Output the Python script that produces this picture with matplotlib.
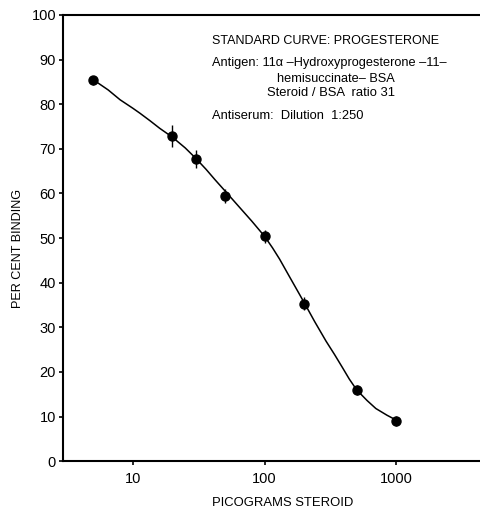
import numpy as np
import matplotlib.pyplot as plt

# measured points (picograms, per cent binding, error)
dose = [5, 20, 30, 50, 100, 200, 500, 1000]
binding = [85.4, 72.9, 67.8, 59.4, 50.4, 35.3, 15.9, 9.0]
err = [1.0, 2.4, 2.0, 1.6, 1.5, 1.5, 1.1, 1.2]

# fitted curve
curve_x = [5, 6.5, 8, 10, 11.3, 13.5, 16, 20, 25, 30, 36, 42, 50, 65, 80, 100,
           115, 130, 155, 185, 210, 240, 293, 340, 390, 440, 500, 600, 700, 850, 1000]
curve_y = [85.5, 83.2, 81.0, 79.1, 78.0, 76.3, 74.6, 72.6, 70.2, 67.9, 65.4, 63.1,
           60.6, 56.8, 53.8, 50.4, 47.8, 45.3, 41.3, 37.3, 34.4, 31.3, 26.9, 23.9,
           21.0, 18.4, 16.0, 13.6, 11.8, 10.3, 9.2]

tick_x = [10, 100, 1000]
tick_y = list(range(0, 101, 10))

plt.rcParams['font.family'] = ['Liberation Sans', 'DejaVu Sans']

fig = plt.figure(figsize=(4.81, 5.17), dpi=100)
ax = fig.add_axes([0.131, 0.108, 0.869, 0.863])

ax.plot(curve_x, curve_y, color='black', lw=1.1)
ax.errorbar(dose, binding, yerr=err, fmt='o', color='black', ms=6.5,
            elinewidth=1.0, capsize=0)

ax.set_xscale('log')
ax.set_xlim(2.95, 4400)
ax.set_ylim(0, 100)
ax.set_xticks(tick_x)
ax.set_xticklabels([str(t) for t in tick_x])
ax.xaxis.set_minor_locator(plt.NullLocator())
ax.set_yticks(tick_y)

for s in ['left', 'bottom', 'top']:
    ax.spines[s].set_linewidth(1.5)
ax.spines['right'].set_visible(False)
ax.tick_params(axis='both', direction='out', length=3, width=1.2, labelsize=10.5, pad=2)
ax.tick_params(axis='x', pad=5)

fig.text(0.588, 0.016, 'PICOGRAMS STEROID', ha='center', va='bottom', fontsize=9.4)
fig.text(0.037, 0.52, 'PER CENT BINDING', ha='center', va='center',
         rotation='vertical', fontsize=9.1)

tx = 0.356
ax.text(tx, 0.942, 'STANDARD CURVE: PROGESTERONE', transform=ax.transAxes,
        va='center', fontsize=9)
ax.text(tx, 0.892, 'Antigen: 11\u03b1 \u2013Hydroxyprogesterone \u201311\u2013',
        transform=ax.transAxes, va='center', fontsize=9.2)
ax.text(0.512, 0.857, 'hemisuccinate\u2013 BSA', transform=ax.transAxes,
        va='center', fontsize=9.2)
ax.text(0.488, 0.825, 'Steroid / BSA  ratio 31', transform=ax.transAxes,
        va='center', fontsize=9.4)
ax.text(tx, 0.774, 'Antiserum:  Dilution  1:250', transform=ax.transAxes,
        va='center', fontsize=9.3)

fig.savefig('out.png', dpi=100)
